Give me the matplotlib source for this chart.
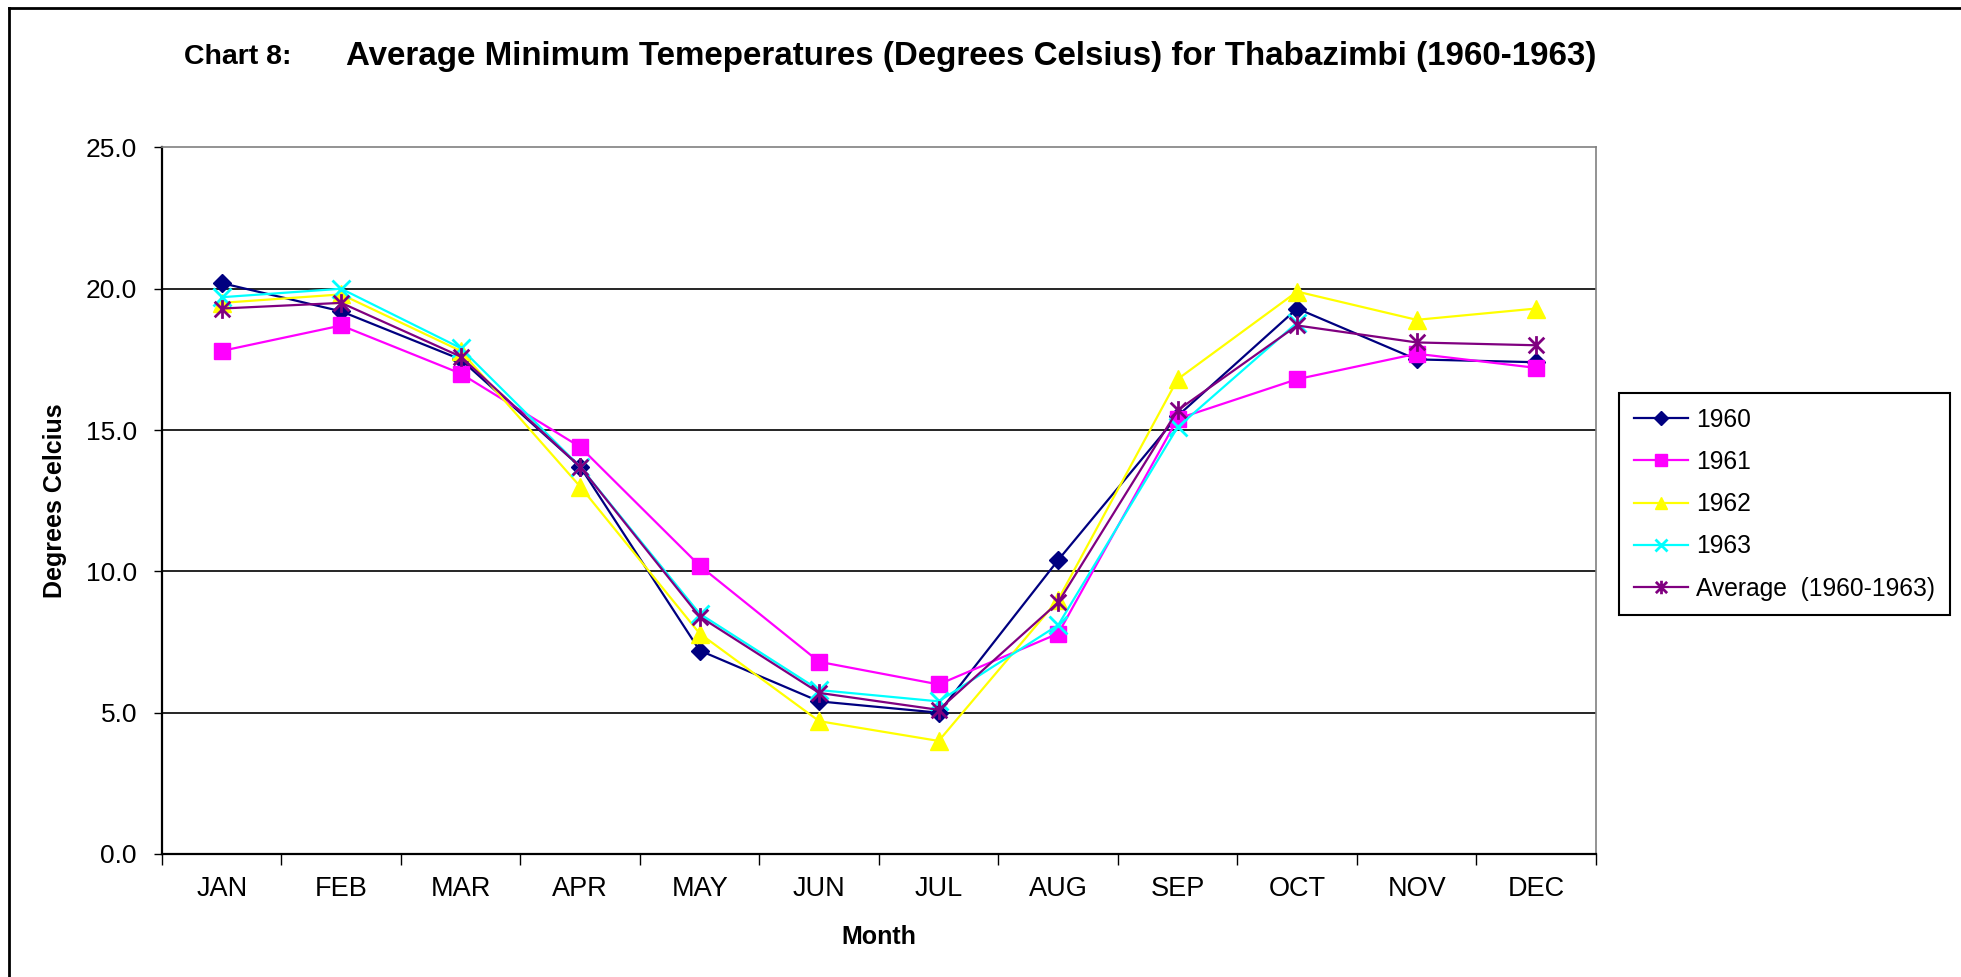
import numpy as np
import matplotlib
matplotlib.use("Agg")
import matplotlib.pyplot as plt
from matplotlib.path import Path
from matplotlib.lines import Line2D

plt.rcParams['font.family'] = ['Liberation Sans', 'DejaVu Sans']

# data
months = ['JAN', 'FEB', 'MAR', 'APR', 'MAY', 'JUN', 'JUL', 'AUG', 'SEP', 'OCT', 'NOV', 'DEC']
t1960 = [20.2, 19.2, 17.5, 13.7, 7.2, 5.4, 5.0, 10.4, 15.5, 19.3, 17.5, 17.4]
t1961 = [17.8, 18.7, 17.0, 14.4, 10.2, 6.8, 6.0, 7.8, 15.4, 16.8, 17.7, 17.2]
t1962 = [19.5, 19.8, 17.8, 13.0, 7.8, 4.7, 4.0, 9.0, 16.8, 19.9, 18.9, 19.3]
t1963 = [19.7, 20.0, 17.9, 13.7, 8.5, 5.8, 5.4, 8.1, 15.1, 18.8, np.nan, np.nan]
tavg = [19.3, 19.5, 17.6, 13.7, 8.4, 5.7, 5.1, 8.9, 15.7, 18.7, 18.1, 18.0]
yticks = [0, 5, 10, 15, 20, 25]

# excel style asterisk (x plus vertical bar)
star = Path([(-1, -1), (1, 1), (-1, 1), (1, -1), (0, -1.2), (0, 1.2)],
            [Path.MOVETO, Path.LINETO] * 3)

fig = plt.figure(figsize=(19.61, 9.77), dpi=100)
ax = fig.add_axes([0.0826, 0.1259, 0.7312, 0.7232])

x = np.arange(len(months))
for v in yticks[1:-1]:
    ax.axhline(v, color='black', lw=1.2, zorder=1)

ax.plot(x, t1960, color='#000080', lw=1.6, marker='D', ms=9.5, label='1960', zorder=3)
ax.plot(x, t1961, color='#FF00FF', lw=1.6, marker='s', ms=11.5, label='1961', zorder=3)
ax.plot(x, t1962, color='#FFFF00', lw=1.6, marker='^', ms=12.5, label='1962', zorder=3)
ax.plot(x, t1963, color='#00FFFF', lw=1.6, marker='x', ms=12.5, mew=2, label='1963', zorder=3)
ax.plot(x, tavg, color='#800080', lw=1.6, marker=star, ms=13.5, mew=2,
        label='Average  (1960-1963)', zorder=3)

ax.set_xlim(-0.5, len(months) - 0.5)
ax.set_ylim(0, 25)
ax.set_yticks(yticks)
ax.set_yticklabels(['%.1f' % v for v in yticks])
ax.set_xticks(x)
ax.set_xticklabels(months)
ax.set_xticks(np.arange(len(months) + 1) - 0.5, minor=True)
ax.tick_params(axis='x', which='major', length=0, pad=16, labelsize=19.5)
ax.tick_params(axis='x', which='minor', length=8, width=1, direction='out')
ax.tick_params(axis='y', length=6, width=1, pad=12, labelsize=19)

for s in ['left', 'bottom']:
    ax.spines[s].set_color('black')
    ax.spines[s].set_linewidth(1.6)
for s in ['top', 'right']:
    ax.spines[s].set_color('#808080')
    ax.spines[s].set_linewidth(1.2)

ax.set_xlabel('Month', fontsize=18, fontweight='bold')
ax.set_ylabel('Degrees Celcius', fontsize=18, fontweight='bold')
ax.xaxis.set_label_coords(0.5, -0.1)
ax.yaxis.set_label_coords(-0.066, 0.5)

fig.text(0.094, 0.942, 'Chart 8:', fontsize=20.5, fontweight='bold', va='center')
fig.text(0.1765, 0.942, 'Average Minimum Temeperatures (Degrees Celsius) for Thabazimbi (1960-1963)',
         fontsize=23.9, fontweight='bold', va='center')

leg = fig.legend(loc='upper left', bbox_to_anchor=(0.8256, 0.5977), fontsize=17.7,
                 frameon=True, fancybox=False, edgecolor='black', framealpha=1,
                 handlelength=2.2, handletextpad=0.35, labelspacing=0.74,
                 borderpad=0.6, borderaxespad=0)
leg.get_frame().set_linewidth(1.5)
for h in leg.legend_handles:
    h.set_markersize(h.get_markersize() * 0.72)

# outer chart border (top and left visible)
fig.add_artist(Line2D([0.0046, 1], [0.992, 0.992], color='black', lw=2, transform=fig.transFigure))
fig.add_artist(Line2D([0.0046, 0.0046], [0, 0.992], color='black', lw=2, transform=fig.transFigure))

fig.savefig('out.png', dpi=100)
